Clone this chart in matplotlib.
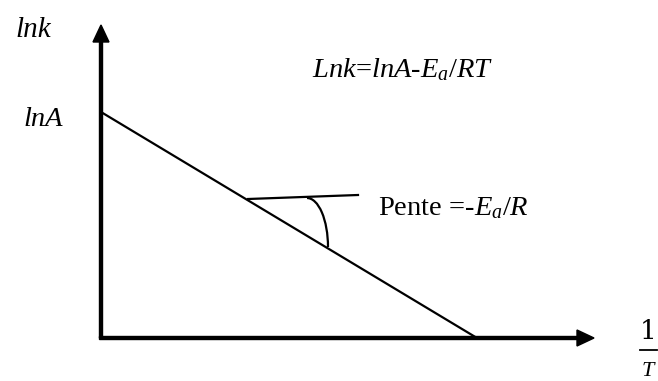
import matplotlib.pyplot as plt
from matplotlib.patches import Arc, FancyArrow

plt.rcParams['font.family'] = ['Liberation Serif', 'DejaVu Serif']
plt.rcParams['mathtext.fontset'] = 'custom'
plt.rcParams['mathtext.rm'] = 'Liberation Serif'
plt.rcParams['mathtext.it'] = 'Liberation Serif:italic'

# origin and axis ends of the sketch (pixel units, y downwards)
origin = (101, 338)
y_axis_top = 24
x_axis_end = 594

# straight line lnk = lnA - Ea/RT : intercept on the lnk axis, root on the 1/T axis
lnA_y = 112
root_x = 477

# tangent line and angle mark for the slope
tangent_x = [248, 358]
tangent_y = [199, 195]
angle_center = (307, 247)
angle_radii = (42, 98)

fig = plt.figure(figsize=(6.58, 3.81), dpi=100)
ax = fig.add_axes([0, 0, 1, 1])
ax.set_xlim(0, 658)
ax.set_ylim(381, 0)
ax.axis('off')

# axes with arrow heads
ax.add_patch(FancyArrow(origin[0], origin[1], 0, y_axis_top - origin[1] + 1,
                        width=3, head_width=16, head_length=17,
                        length_includes_head=True, color='black'))
ax.add_patch(FancyArrow(origin[0] - 1.5, origin[1], x_axis_end - origin[0] + 1.5, 0,
                        width=3, head_width=16, head_length=17,
                        length_includes_head=True, color='black'))

ax.plot([origin[0], root_x], [lnA_y, origin[1]], color='black', lw=1.6)
ax.plot(tangent_x, tangent_y, color='black', lw=1.6)
ax.add_patch(Arc(angle_center, angle_radii[0], angle_radii[1],
                 theta1=270, theta2=360, color='black', lw=1.6))

ax.text(15, 37, 'lnk', fontsize=21, style='italic')
ax.text(23, 126, 'lnA', fontsize=20.5, style='italic')
ax.text(312, 77, r'$Lnk$=$lnA$-$E_a$/$RT$', fontsize=20.5)
ax.text(378, 215, r'Pente =-$E_a$/$R$', fontsize=20.5)

# 1/T written as a stacked fraction
ax.text(648, 339, '1', fontsize=19, ha='center', family='DejaVu Serif')
ax.plot([640, 657], [350, 350], color='black', lw=1.3)
ax.text(648, 380.5, 'T', fontsize=16, ha='center', va='bottom', style='italic')

plt.savefig('out.png', dpi=100)
